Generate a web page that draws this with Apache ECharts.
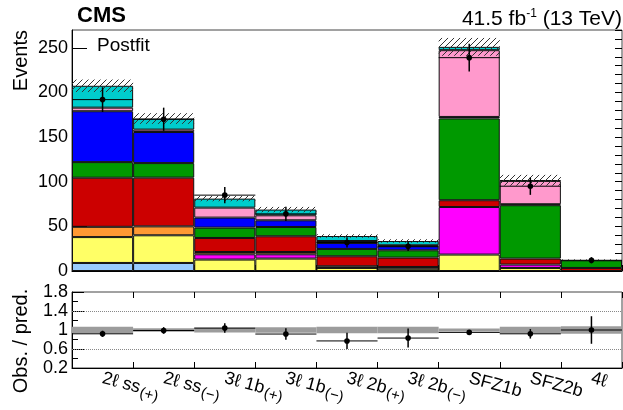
<!DOCTYPE html>
<html><head><meta charset="utf-8">
<script src="https://cdn.jsdelivr.net/npm/echarts@6/dist/echarts.min.js"></script>
<style>html,body{margin:0;padding:0;background:#fff}#c{width:623px;height:410px}</style>
</head><body><div id="c"></div>
<script>
const categories = ['2ℓ ss(+)','2ℓ ss(−)','3ℓ 1b(+)','3ℓ 1b(−)','3ℓ 2b(+)','3ℓ 2b(−)','SFZ1b','SFZ2b','4ℓ'];
const labelMain = ['2ℓ ss','2ℓ ss','3ℓ 1b','3ℓ 1b','3ℓ 2b','3ℓ 2b','SFZ1b','SFZ2b','4ℓ'];
const labelSub  = ['(+)','(−)','(+)','(−)','(+)','(−)','','',''];

// stacked components, bottom to top
const lightblue = [9, 9, 0, 0, 0, 0, 0, 0, 0];
const yellow    = [29, 31, 12.8, 13.9, 3.4, 2.5, 18.4, 3.4, 0];
const magenta   = [0, 0, 5.9, 4.8, 0, 0, 53.3, 3.8, 0];
const orange    = [11.5, 10, 2.6, 2.6, 1.9, 2, 0, 0, 0];
const red       = [55, 54.6, 15.7, 17.6, 11.2, 10.5, 7.6, 6.7, 3.4];
const green     = [17.5, 16.3, 11.6, 10.4, 8.2, 8.2, 91.6, 59.8, 8.6];
const blue      = [57, 34.8, 11.2, 7.5, 6.7, 4.5, 1.7, 1.1, 0];
const pink      = [4, 2.7, 11.2, 5.6, 2.2, 1.1, 74.8, 26.1, 0];
const cyan      = [24.5, 12.4, 10.1, 6.4, 5.6, 4.8, 3.7, 0.8, 0];

const predUnc   = [7, 6, 3, 3, 2, 2, 10, 6, 1];
const obs       = [192, 170, 85, 64, 32, 27.7, 239, 95, 12];
const obsErr    = [13.9, 13, 9.2, 8, 5.7, 5.3, 15.5, 9.7, 3.5];

const ratio     = [0.92, 0.99, 1.04, 0.915, 0.77, 0.83, 0.95, 0.92, 1.0];
const ratioErr  = [0.065, 0.07, 0.1, 0.12, 0.17, 0.2, 0.05, 0.1, 0.29];
const ratioBand = [0.07, 0.035, 0.05, 0.06, 0.07, 0.07, 0.03, 0.07, 0.08];

const FONT = 'Liberation Sans';
const comps = [
  ['flips', lightblue, '#99ccff'],
  ['fakes', yellow, '#ffff66'],
  ['diboson', magenta, '#ff00ff'],
  ['conv', orange, '#ff9933'],
  ['ttH', red, '#cc0000'],
  ['ttll', green, '#009900'],
  ['ttlnu', blue, '#0000ff'],
  ['tllq', pink, '#ff99cc'],
  ['other', cyan, '#00cccc']
];
const predTotal = categories.map((_, i) => comps.reduce((s, c) => s + c[1][i], 0));

const chart = echarts.init(document.getElementById('c'), null, {renderer: 'canvas'});

const barSeries = comps.map(([name, arr, col]) => ({
  name, type: 'bar', stack: 'mc', xAxisIndex: 0, yAxisIndex: 0,
  barCategoryGap: '0%', barGap: '-100%',
  itemStyle: {color: col, borderColor: '#111', borderWidth: 1},
  data: arr.map(v => v === 0 ? {value: 0, itemStyle: {borderWidth: 0}} : v),
  silent: true
}));

function hatch(params, api) {
  const i = api.value(0), lo = api.value(1), hi = api.value(2);
  const p0 = api.coord([i, hi]), p1 = api.coord([i, lo]);
  const w = api.size([1, 0])[0];
  const x0 = p0[0] - w / 2, x1 = p0[0] + w / 2, y0 = p0[1], y1 = p1[1];
  const step = 6, children = [];
  const cStart = Math.ceil((x0 + y0) / step) * step;
  for (let c = cStart; c <= x1 + y1; c += step) {
    const xs = Math.max(x0, c - y1), xe = Math.min(x1, c - y0);
    if (xe > xs) children.push({type: 'line', shape: {x1: xs, y1: c - xs, x2: xe, y2: c - xe},
      style: {stroke: '#333', lineWidth: 1}});
  }
  return {type: 'group', children};
}

function points(params, api) {
  const i = api.value(0), v = api.value(1), e = api.value(2);
  const c = api.coord([i, v]), top = api.coord([i, v + e]), bot = api.coord([i, v - e]);
  const w = api.size([1, 0])[0];
  return {type: 'group', children: [
    {type: 'line', shape: {x1: c[0] - w / 2, y1: c[1], x2: c[0] + w / 2, y2: c[1]}, style: {stroke: '#000', lineWidth: 1}},
    {type: 'line', shape: {x1: c[0], y1: top[1], x2: c[0], y2: bot[1]}, style: {stroke: '#000', lineWidth: 1.5}},
    {type: 'circle', shape: {cx: c[0], cy: c[1], r: 2.8}, style: {fill: '#000'}}
  ]};
}

function band(params, api) {
  const i = api.value(0), h = api.value(1);
  const a = api.coord([i, 1 + h]), b = api.coord([i, 1 - h]);
  const w = api.size([1, 0])[0];
  return {type: 'rect', shape: {x: a[0] - w / 2, y: a[1], width: w, height: b[1] - a[1]},
    style: {fill: '#9c9c9c'}};
}

const axisLineBlack = {show: true, lineStyle: {color: '#000', width: 1}};

const option = {
  animation: false,
  textStyle: {fontFamily: FONT},
  grid: [
    {left: 72, right: 1, top: 30, bottom: 139, show: true, borderColor: '#444', borderWidth: 1, outerBoundsMode: 'none'},
    {left: 72, right: 1, top: 292, bottom: 42, show: true, borderColor: '#444', borderWidth: 1, outerBoundsMode: 'none'}
  ],
  xAxis: [
    {type: 'category', gridIndex: 0, data: categories, boundaryGap: true,
     axisLine: axisLineBlack, axisTick: {show: true, inside: true, length: 6, lineStyle: {color: '#000'}},
     axisLabel: {show: false}, splitLine: {show: false}},
    {type: 'category', gridIndex: 1, data: categories, boundaryGap: true, position: 'bottom',
     axisLine: axisLineBlack, axisTick: {show: true, inside: true, length: 6, lineStyle: {color: '#000'}},
     axisLabel: {show: true, interval: 0, rotate: -15, margin: 10, color: '#000',
       formatter: (v, i) => '{a|' + labelMain[i] + '}' + (labelSub[i] ? '{s|' + labelSub[i] + '}' : ''),
       rich: {
         a: {fontSize: 18, fontFamily: FONT, color: '#000', lineHeight: 18, verticalAlign: 'top'},
         s: {fontSize: 15, fontFamily: FONT, color: '#000', lineHeight: 15, padding: [6, 0, 0, 1], verticalAlign: 'top'}
       }},
     splitLine: {show: false}},
    {type: 'category', gridIndex: 1, data: categories, boundaryGap: true, position: 'top',
     axisLine: {show: false}, axisTick: {show: true, inside: true, length: 6, lineStyle: {color: '#000'}},
     axisLabel: {show: false}, splitLine: {show: false}}
  ],
  yAxis: [
    {type: 'value', gridIndex: 0, min: 0, max: 270, interval: 50,
     axisLine: axisLineBlack, axisTick: {show: true, inside: true, length: 15, lineStyle: {color: '#000'}},
     axisLabel: {fontSize: 18, color: '#000', margin: 4, showMaxLabel: false, fontFamily: FONT},
     splitLine: {show: false}},
    {type: 'value', gridIndex: 0, min: 0, max: 270, interval: 10,
     axisLine: {show: false}, axisTick: {show: true, inside: true, length: 7, lineStyle: {color: '#000'}},
     axisLabel: {show: false}, splitLine: {show: false}},
    {type: 'value', gridIndex: 1, min: 0.2, max: 1.8, interval: 0.4,
     axisLine: axisLineBlack, axisTick: {show: true, inside: true, length: 12, lineStyle: {color: '#000'}},
     minorTick: {show: true, splitNumber: 2, length: 6, lineStyle: {color: '#000'}},
     axisLabel: {fontSize: 18, color: '#000', margin: 4, fontFamily: FONT,
       formatter: v => String(parseFloat((+v).toFixed(2)))},
     splitLine: {show: false}, minorSplitLine: {show: false}}
  ],
  series: [
    ...barSeries,
    {type: 'custom', name: 'unc', xAxisIndex: 0, yAxisIndex: 0, renderItem: hatch, silent: true, z: 5,
     encode: {x: 0, y: [1, 2]},
     data: categories.map((_, i) => [i, predTotal[i] - predUnc[i], predTotal[i] + predUnc[i]])},
    {type: 'custom', name: 'data', xAxisIndex: 0, yAxisIndex: 0, renderItem: points, silent: true, z: 6,
     encode: {x: 0, y: [1, 2]},
     data: categories.map((_, i) => [i, obs[i], obsErr[i]])},
    {type: 'custom', name: 'band', xAxisIndex: 1, yAxisIndex: 2, renderItem: band, silent: true, z: 2,
     encode: {x: 0, y: 1},
     data: categories.map((_, i) => [i, ratioBand[i]]),
     markLine: {silent: true, symbol: 'none', label: {show: false},
       lineStyle: {type: 'dotted', color: '#888', width: 1},
       data: [{yAxis: 0.6}, {yAxis: 1.4}]}},
    {type: 'custom', name: 'ratio', xAxisIndex: 1, yAxisIndex: 2, renderItem: points, silent: true, z: 6,
     encode: {x: 0, y: [1, 2]},
     data: categories.map((_, i) => [i, ratio[i], ratioErr[i]])}
  ],
  graphic: [
    {type: 'text', left: 77, top: 5, style: {text: 'CMS', font: 'bold 22px ' + FONT, fill: '#000'}},
    {type: 'text', right: 1, top: 8, style: {
      text: '{n|41.5 fb}{p|-1}{n| (13 TeV)}', fill: '#000',
      rich: {
        n: {fontSize: 21, fontFamily: FONT, lineHeight: 22, verticalAlign: 'bottom', fill: '#000'},
        p: {fontSize: 12, fontFamily: FONT, lineHeight: 12, padding: [0, 0, 10, 0], verticalAlign: 'bottom', fill: '#000'}
      }}},
    {type: 'text', left: 97, top: 36, style: {text: 'Postfit', font: '19px ' + FONT, fill: '#000'}},
    {type: 'text', x: 21, y: 30, rotation: Math.PI / 2,
     style: {text: 'Events', font: '20px ' + FONT, fill: '#000', align: 'right', verticalAlign: 'middle'}},
    {type: 'text', x: 21, y: 341, rotation: Math.PI / 2,
     style: {text: 'Obs. / pred.', font: '20px ' + FONT, fill: '#000', align: 'center', verticalAlign: 'middle'}}
  ]
};
chart.setOption(option);
</script>
</body></html>
